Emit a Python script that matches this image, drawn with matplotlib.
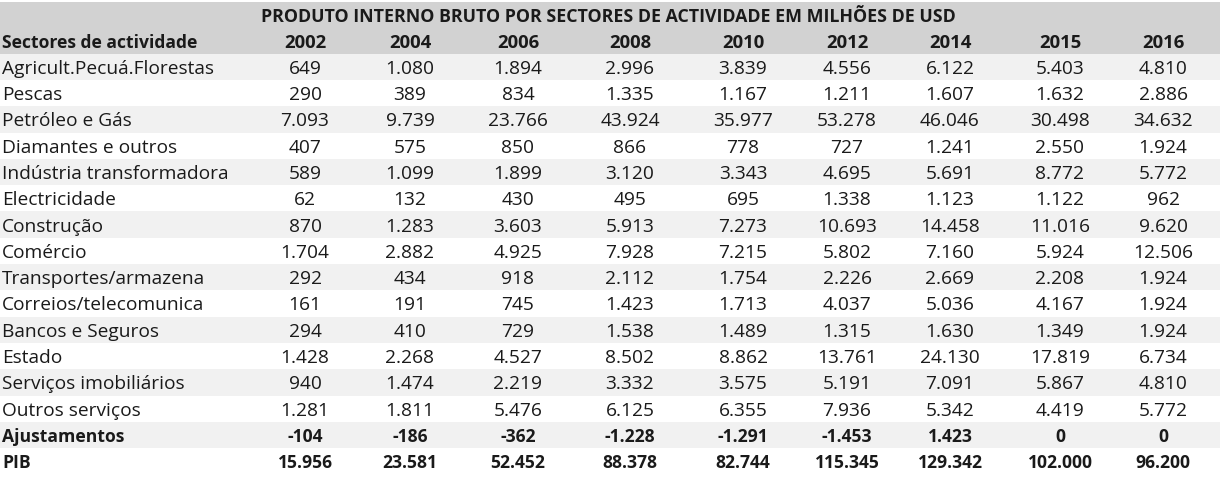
import matplotlib
matplotlib.use("Agg")
import matplotlib.pyplot as plt
from matplotlib.patches import Rectangle

title = "PRODUTO INTERNO BRUTO POR SECTORES DE ACTIVIDADE EM MILHÕES DE USD"
header_label = "Sectores de actividade"
years = ["2002", "2004", "2006", "2008", "2010", "2012", "2014", "2015", "2016"]

sectors = [
    "Agricult.Pecuá.Florestas", "Pescas", "Petróleo e Gás", "Diamantes e outros",
    "Indústria transformadora", "Electricidade", "Construção", "Comércio",
    "Transportes/armazena", "Correios/telecomunica", "Bancos e Seguros", "Estado",
    "Serviços imobiliários", "Outros serviços", "Ajustamentos", "PIB",
]

agricult = [649, 1080, 1894, 2996, 3839, 4556, 6122, 5403, 4810]
pescas = [290, 389, 834, 1335, 1167, 1211, 1607, 1632, 2886]
petroleo = [7093, 9739, 23766, 43924, 35977, 53278, 46046, 30498, 34632]
diamantes = [407, 575, 850, 866, 778, 727, 1241, 2550, 1924]
industria = [589, 1099, 1899, 3120, 3343, 4695, 5691, 8772, 5772]
electricidade = [62, 132, 430, 495, 695, 1338, 1123, 1122, 962]
construcao = [870, 1283, 3603, 5913, 7273, 10693, 14458, 11016, 9620]
comercio = [1704, 2882, 4925, 7928, 7215, 5802, 7160, 5924, 12506]
transportes = [292, 434, 918, 2112, 1754, 2226, 2669, 2208, 1924]
correios = [161, 191, 745, 1423, 1713, 4037, 5036, 4167, 1924]
bancos = [294, 410, 729, 1538, 1489, 1315, 1630, 1349, 1924]
estado = [1428, 2268, 4527, 8502, 8862, 13761, 24130, 17819, 6734]
imobiliarios = [940, 1474, 2219, 3332, 3575, 5191, 7091, 5867, 4810]
outros = [1281, 1811, 5476, 6125, 6355, 7936, 5342, 4419, 5772]
ajustamentos = [-104, -186, -362, -1228, -1291, -1453, 1423, 0, 0]
pib = [15956, 23581, 52452, 88378, 82744, 115345, 129342, 102000, 96200]

rows = [agricult, pescas, petroleo, diamantes, industria, electricidade, construcao,
        comercio, transportes, correios, bancos, estado, imobiliarios, outros,
        ajustamentos, pib]
bold_rows = {"Ajustamentos", "PIB"}


def fmt(v):
    s = f"{abs(v):,}".replace(",", ".")
    return ("-" if v < 0 else "") + s


W, H = 1230, 481
fig = plt.figure(figsize=(W / 100, H / 100), dpi=100)
ax = fig.add_axes([0, 0, 1, 1])
ax.set_xlim(0, W)
ax.set_ylim(H, 0)
ax.axis("off")

FONT = ["Open Sans", "DejaVu Sans"]
TXT = "#1a1a1a"
row_h = 26.3
top = 3
table_right = 1220
col_x = [305, 410, 518, 630, 743, 847, 950, 1060, 1163]
label_x = 2
fs_title = 12.8
fs_head = 13.3
fs_label_head = 12.6
fs_data = 13.8

# header band
ax.add_patch(Rectangle((0, top), table_right, 2 * row_h - 1, color="#d2d2d2", lw=0))
ax.text(608, top + row_h * 0.5 + 1, title, ha="center", va="center", fontsize=fs_title,
        fontweight="bold", color=TXT, family=FONT)
yh = top + row_h * 1.5 + 1
ax.text(label_x, yh, header_label, ha="left", va="center", fontsize=fs_label_head,
        fontweight="bold", color=TXT, family=FONT)
for x, yr in zip(col_x, years):
    ax.text(x, yh, yr, ha="center", va="center", fontsize=fs_head,
            fontweight="bold", color=TXT, family=FONT)

y0 = top + 2 * row_h - 1
for i, (name, vals) in enumerate(zip(sectors, rows)):
    yt = y0 + i * row_h
    if i % 2 == 0:
        ax.add_patch(Rectangle((0, yt), table_right, row_h, color="#f1f1f1", lw=0))
    yc = yt + row_h / 2 + 1
    w = "bold" if name in bold_rows else "normal"
    fsz = fs_label_head if name in bold_rows else fs_data
    ax.text(label_x, yc, name, ha="left", va="center", fontsize=fsz,
            fontweight=w, color=TXT, family=FONT)
    for x, v in zip(col_x, vals):
        ax.text(x, yc, fmt(v), ha="center", va="center", fontsize=fsz,
                fontweight=w, color=TXT, family=FONT)

fig.savefig("out.png", dpi=100)
